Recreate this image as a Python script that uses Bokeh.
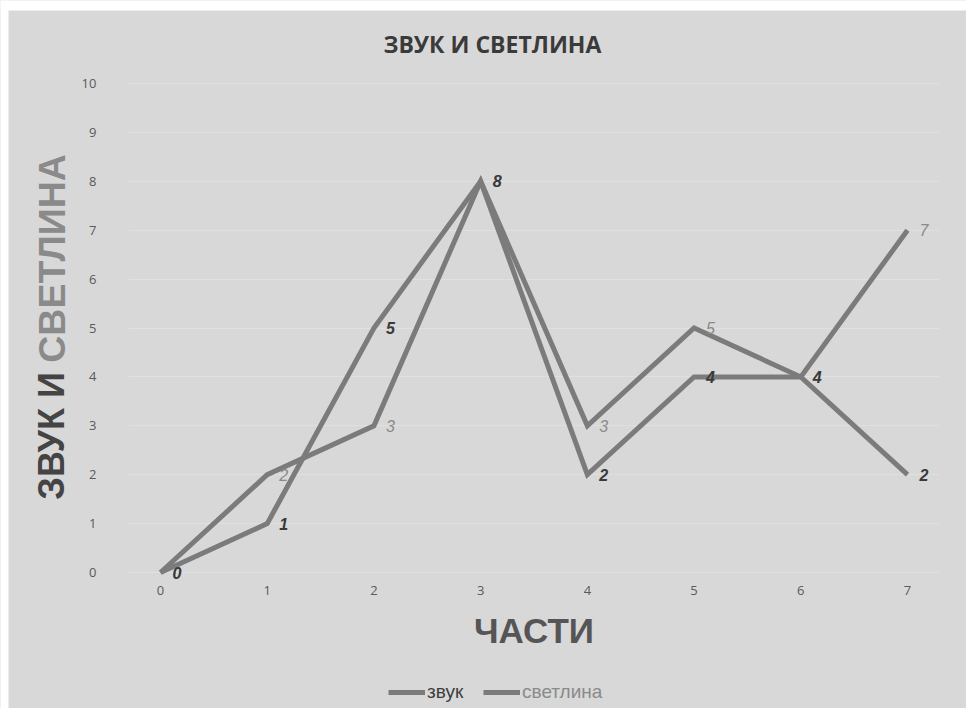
import math
from bokeh.plotting import figure
from bokeh.models import (Label, Legend, LegendItem, ColumnDataSource, FixedTicker, Range1d,
                          BoxAnnotation)
from bokeh.core.properties import value
from bokeh.embed import file_html
from bokeh.resources import INLINE

# ---- data ----
parts = [0, 1, 2, 3, 4, 5, 6, 7]
zvuk = [0, 1, 5, 8, 2, 4, 4, 2]
svetlina = [0, 2, 3, 8, 3, 5, 4, 7]
y_ticks = [0, 1, 2, 3, 4, 5, 6, 7, 8, 9, 10]
title_text = "ЗВУК И СВЕТЛИНА"
ytitle_a = "ЗВУК И"
ytitle_b = "СВЕТЛИНА"
xtitle = "ЧАСТИ"
series_names = ["звук", "светлина"]

BG = "#d8d8d8"
LINE = "#7b7b7b"

W, H = 966, 708
X0, XPU = 160.0, 106.714      # pixel of x=0, pixels per unit
Y0, YPU = 572.0, 48.9         # pixel of y=0, pixels per unit

p = figure(width=W, height=H, output_backend="svg", toolbar_location=None,
           x_range=Range1d(-X0 / XPU, (W - X0) / XPU),
           y_range=Range1d(-(H - Y0) / YPU, Y0 / YPU),
           min_border=0, min_border_left=0, min_border_right=0,
           min_border_top=0, min_border_bottom=0)
p.background_fill_color = BG
p.border_fill_color = BG
p.outline_line_color = None
p.xgrid.grid_line_color = None
p.ygrid.grid_line_color = "#e4e4e4"
p.ygrid.grid_line_alpha = 0.7
p.ygrid.ticker = FixedTicker(ticks=y_ticks)
try:
    p.ygrid.cross_bounds = (-0.3, 7.3)
except Exception:
    pass

# white page margin seen at the left and top of the reference
p.add_layout(BoxAnnotation(right=(8 - X0) / XPU, fill_color="white", fill_alpha=1,
                           line_color=None, level="underlay"))
p.add_layout(BoxAnnotation(bottom=(Y0 - 10) / YPU, fill_color="white", fill_alpha=1,
                           line_color=None, level="underlay"))

src = ColumnDataSource(dict(x=parts, z=zvuk, s=svetlina,
                            zt=[str(v) for v in zvuk], st=[str(v) for v in svetlina]))

r_s = p.line("x", "s", source=src, line_color=LINE, line_width=5, line_join="miter")
r_z = p.line("x", "z", source=src, line_color=LINE, line_width=5, line_join="miter")

p.text("x", "s", text="st", source=src, x_offset=12, text_baseline="middle",
       text_font=value("Liberation Sans"), text_font_size="16px", text_font_style="italic",
       text_color="#8a8a8a")
p.text("x", "z", text="zt", source=src, x_offset=12, text_baseline="middle",
       text_font=value("Liberation Sans"), text_font_size="16px", text_font_style="bold italic",
       text_color="#3a3a3a")

# axes (placed at fixed positions inside the full-canvas frame)
for ax in (p.xaxis[0], p.yaxis[0]):
    ax.axis_line_color = None
    ax.major_tick_line_color = None
    ax.minor_tick_line_color = None
    ax.major_tick_out = 0
    ax.major_tick_in = 0
    ax.major_label_text_font = "Open Sans"
    ax.major_label_text_font_size = "13px"
    ax.major_label_text_color = "#5a5a5a"
p.xaxis.ticker = FixedTicker(ticks=parts)
p.yaxis.ticker = FixedTicker(ticks=y_ticks)
p.yaxis.fixed_location = -0.3
p.xaxis.fixed_location = -0.2
p.xaxis.bounds = (-0.3, 7.3)
p.yaxis.bounds = (-0.2, 10.3)
p.yaxis.major_label_standoff = 32
p.xaxis.major_label_standoff = 4
p.xaxis.axis_label = xtitle
p.xaxis.axis_label_text_font = "Liberation Sans"
p.xaxis.axis_label_text_font_size = "35px"
p.xaxis.axis_label_text_font_style = "bold"
p.xaxis.axis_label_text_color = "#555555"
p.xaxis.axis_label_standoff = 12

# title
p.add_layout(Label(x=3.11, y=10.8, text=title_text, text_align="center", text_baseline="middle",
                   text_font="Open Sans", text_font_size="23px", text_font_style="bold",
                   text_color="#3a3a3a"))
# y-axis title in two colours
p.add_layout(Label(x=-1.02, y=1.49, text=ytitle_a, angle=math.pi / 2, text_align="left",
                   text_baseline="middle", text_font="Liberation Sans", text_font_size="36px",
                   text_font_style="bold", text_color="#444444"))
p.add_layout(Label(x=-1.02, y=4.29, text=ytitle_b, angle=math.pi / 2, text_align="left",
                   text_baseline="middle", text_font="Liberation Sans", text_font_size="37.5px",
                   text_font_style="bold", text_color="#8a8a8a"))

# legend
for rend, name, col, xloc in ((r_z, series_names[0], "#3c3c3c", 388),
                              (r_s, series_names[1], "#8a8a8a", 483)):
    lg = Legend(items=[LegendItem(label=name, renderers=[rend])], location=(xloc, 5),
                glyph_width=37, glyph_height=20, label_standoff=2, padding=0, margin=0,
                border_line_color=None, background_fill_alpha=0,
                label_text_font="Liberation Sans", label_text_font_size="19px",
                label_text_color=col, label_height=20)
    p.add_layout(lg, "center")

open("out.html", "w").write(file_html(p, INLINE))
